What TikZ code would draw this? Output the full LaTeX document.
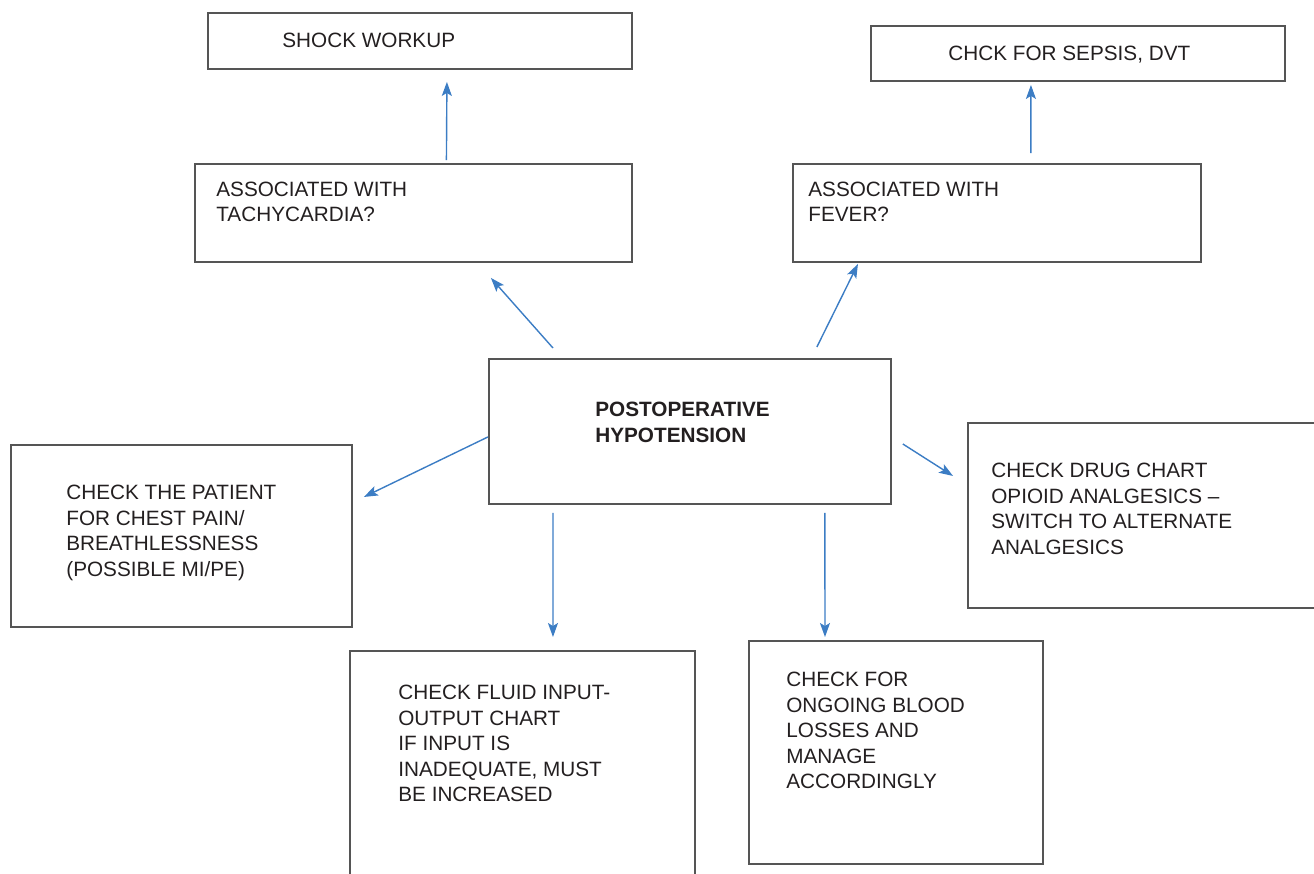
\documentclass[tikz,border=0pt]{standalone}
\usepackage{fontspec}
\setmainfont{Liberation Sans}
\usetikzlibrary{arrows.meta, positioning}
\definecolor{boxGray}{HTML}{555555}
\definecolor{arrowBlue}{HTML}{3C7DC4}
\definecolor{inkDark}{HTML}{231F20}
\tikzset{
  box/.style={rectangle, draw=boxGray, line width=1.1pt, inner sep=0pt,
              anchor=north west},
  txt/.style={anchor=base west, align=left, inner sep=0pt, text=inkDark,
              font=\fontsize{11.8}{14.5}\selectfont},
  txtB/.style={txt, font=\fontsize{11.8}{14.5}\selectfont\bfseries},
  arrowB/.style={-{Stealth[length=0.28cm, width=0.2cm, inset=0.06cm]},
                 arrowBlue, line width=0.8pt},
}

\begin{document}
\begin{tikzpicture}[x=0.02cm, y=-0.02cm]
        \useasboundingbox (0,0) rectangle (1314,873);
        % Cajas
        \node[box, minimum width=8.48cm, minimum height=1.12cm] (shock) at (207,12) {};
        \node[box, minimum width=8.28cm, minimum height=1.10cm] (sepsis) at (870,25) {};
        \node[box, minimum width=8.74cm, minimum height=1.96cm] (tachy) at (194,163) {};
        \node[box, minimum width=8.16cm, minimum height=1.96cm] (fever) at (792,163) {};
        \node[box, minimum width=8.04cm, minimum height=2.90cm] (hypo) at (488,358) {};
        \node[box, minimum width=6.82cm, minimum height=3.64cm] (chest) at (10,444) {};
        \node[box, minimum width=7.40cm, minimum height=3.70cm] (drug) at (967,422) {};
        \node[box, minimum width=6.90cm, minimum height=5.00cm] (fluid) at (349,650) {};
        \node[box, minimum width=5.88cm, minimum height=4.46cm] (blood) at (748,640) {};
        % Textos (anclados en la linea base de la ultima linea)
        \node[txt] (shockT) at (282,47.5) {SHOCK WORKUP};
        \node[txt] (sepsisT) at (948,60) {CHCK FOR SEPSIS, DVT};
        \node[txt] (tachyT) at (216,221.5) {ASSOCIATED WITH\\TACHYCARDIA?};
        \node[txt] (feverT) at (808,221.5) {ASSOCIATED WITH\\FEVER?};
        \node[txtB] (hypoT) at (595,442) {POSTOPERATIVE\\HYPOTENSION};
        \node[txt] (chestT) at (66,576) {CHECK THE PATIENT\\FOR CHEST PAIN/\\BREATHLESSNESS\\(POSSIBLE MI/PE)};
        \node[txt] (drugT) at (991,554) {CHECK DRUG CHART\\OPIOID ANALGESICS --\\SWITCH TO ALTERNATE\\ANALGESICS};
        \node[txt] (fluidT) at (398,801.5) {CHECK FLUID INPUT-\\OUTPUT CHART\\IF INPUT IS\\INADEQUATE, MUST\\BE INCREASED};
        \node[txt] (bloodT) at (786,788.5) {CHECK FOR\\ONGOING BLOOD\\LOSSES AND\\MANAGE\\ACCORDINGLY};
        % Flechas
        \draw[arrowB] ([xshift=0.66cm, yshift=0.06cm]tachy.north) -- ([xshift=0.54cm, yshift=-0.24cm]shock.south);
        \draw[arrowB] ([xshift=0.68cm, yshift=0.20cm]fever.north) -- ([xshift=-0.94cm, yshift=-0.06cm]sepsis.south);
        \draw[arrowB] ([xshift=1.30cm, yshift=0.20cm]hypo.north west) -- ([xshift=-2.84cm, yshift=-0.30cm]tachy.south east);
        \draw[arrowB] ([xshift=-1.50cm, yshift=0.22cm]hypo.north east) -- ([xshift=-2.78cm, yshift=-0.02cm]fever.south);
        \draw[arrowB] ([yshift=1.36cm]hypo.south west) -- ([xshift=0.22cm, yshift=0.78cm]chest.east);
        \draw[arrowB] ([xshift=0.22cm, yshift=-1.72cm]hypo.north east) -- ([xshift=-0.28cm, yshift=0.79cm]drug.west);
        \draw[arrowB] ([xshift=1.30cm, yshift=-0.16cm]hypo.south west) -- ([xshift=4.08cm, yshift=0.26cm]fluid.north west);
        \draw[arrowB] ([xshift=-1.34cm, yshift=-0.16cm]hypo.south east) -- ([xshift=1.54cm, yshift=0.06cm]blood.north west);
      \end{tikzpicture}
\end{document}
